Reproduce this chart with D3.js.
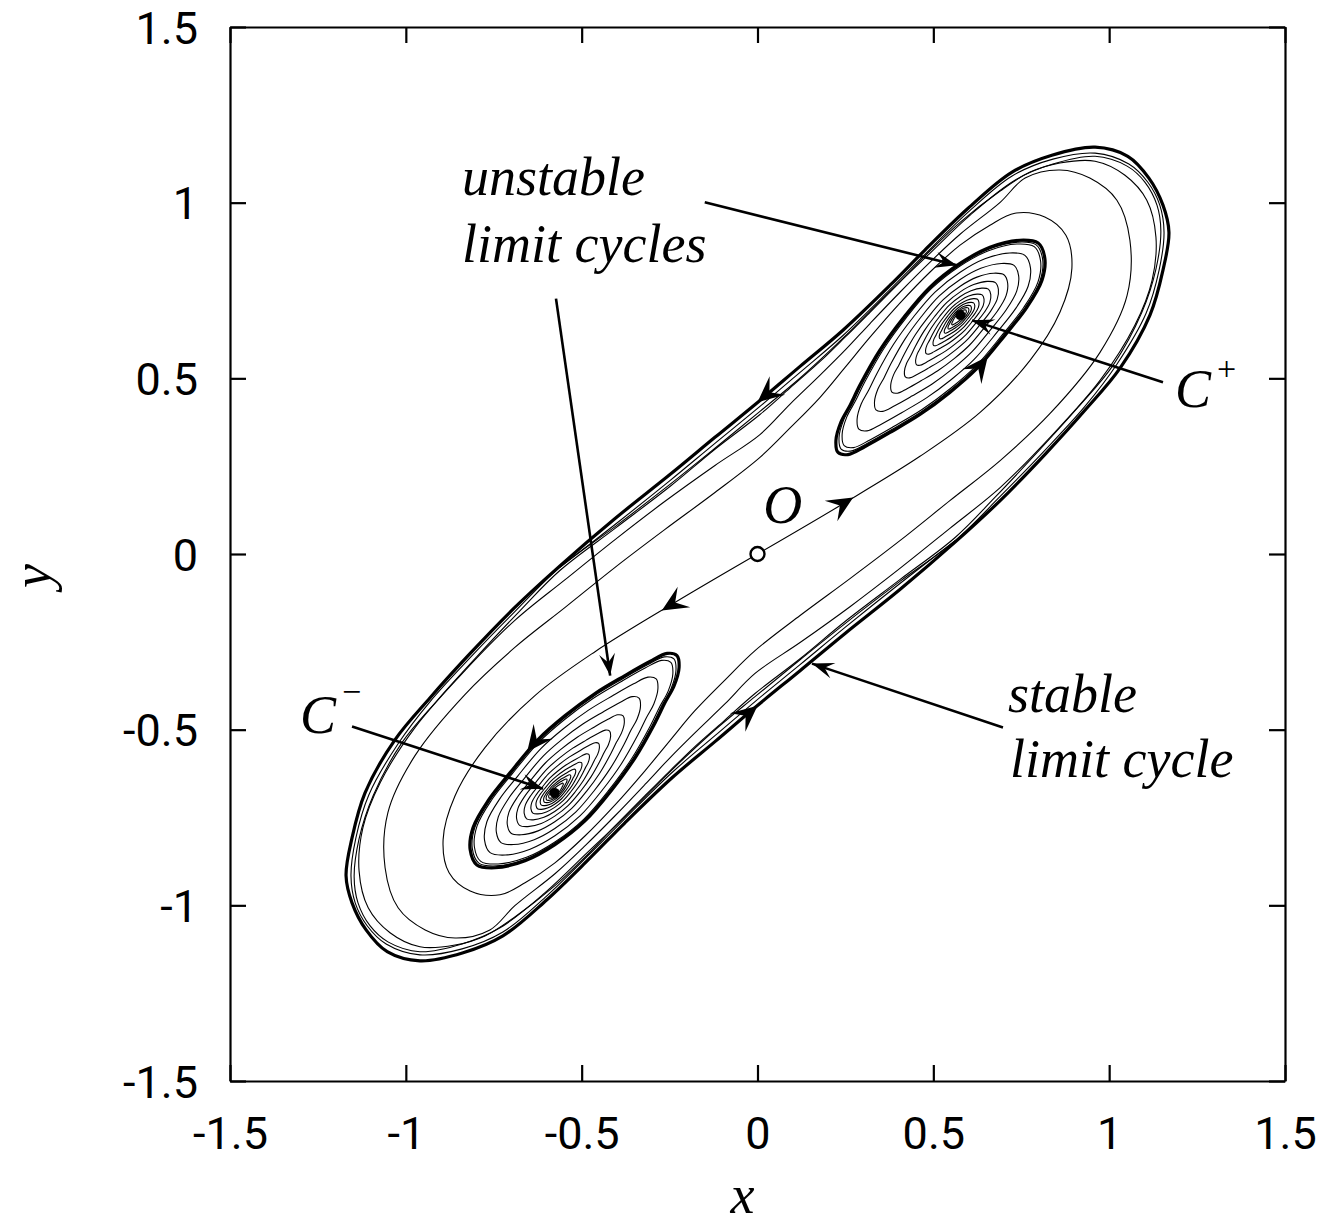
<!DOCTYPE html>
<html>
<head>
<meta charset="utf-8">
<script src="https://cdn.jsdelivr.net/npm/d3@7"></script>
<style>
  body { margin: 0; background: #fff; }
</style>
</head>
<body>
<div id="chart"></div>
<script>
const xTicks = [-1.5, -1, -0.5, 0, 0.5, 1, 1.5];
const yTicks = [-1.5, -1, -0.5, 0, 0.5, 1, 1.5];

// stable limit cycle: first half only, the other half is its point reflection through O
const stableHalf = [
  [-0.561,-0.033],[-0.405,0.101],[-0.249,0.226],[-0.121,0.332],[0.007,0.437],[0.121,0.534],
  [0.243,0.637],[0.377,0.765],[0.476,0.865],[0.599,0.984],[0.724,1.087],[0.837,1.135],
  [0.960,1.158],[1.053,1.132],[1.113,1.070],[1.153,0.993],[1.170,0.916],[1.153,0.808],
  [1.116,0.680],[1.031,0.529],[0.931,0.409],[0.817,0.283],[0.690,0.152]
];

// unstable limit cycle around C+ (C- has the reflected one)
const unstableCycle = [
  [0.263,0.423],[0.291,0.480],[0.348,0.580],[0.414,0.671],[0.490,0.759],[0.576,0.827],
  [0.661,0.873],[0.746,0.893],[0.798,0.885],[0.817,0.842],[0.809,0.779],[0.766,0.702],
  [0.704,0.623],[0.624,0.528],[0.547,0.460],[0.462,0.397],[0.377,0.346],[0.306,0.306],
  [0.257,0.283],[0.229,0.289],[0.223,0.323],[0.237,0.375]
];
const focusPlus = [0.577, 0.680];
// relative sizes of the spiral turns winding into the focus
const spiralTurns = [0.975, 0.95, 0.83, 0.69, 0.56, 0.45, 0.36, 0.28, 0.22, 0.17, 0.13, 0.1, 0.07];

// unstable manifold of O leaving up-right (the other branch is its reflection)
const branchO = [
  [0,0],[0.235,0.138],[0.462,0.278],[0.633,0.403],[0.775,0.551],[0.860,0.688],[0.894,0.813],
  [0.877,0.907],[0.817,0.959],[0.732,0.970],[0.661,0.936],[0.576,0.879],[0.490,0.802],
  [0.405,0.714],[0.320,0.617],[0.249,0.531],[0.178,0.446],[0.092,0.358],[0.007,0.275],
  [-0.121,0.175],[-0.263,0.070],[-0.405,-0.038],[-0.547,-0.152],[-0.690,-0.266],[-0.832,-0.400],
  [-0.974,-0.574],[-1.051,-0.736],[-1.059,-0.893],[-1.022,-1.007],[-0.945,-1.070],[-0.860,-1.093],
  [-0.761,-1.070],[-0.690,-1.001],[-0.576,-0.910],[-0.490,-0.830],[-0.405,-0.745],[-0.320,-0.656],
  [-0.249,-0.580],[-0.178,-0.509],[-0.092,-0.426],[-0.007,-0.340],
  [0.121,-0.252],[0.263,-0.150],[0.405,-0.041],[0.547,0.073],[0.690,0.189],[0.832,0.332],
  [0.974,0.494],[1.073,0.651],[1.122,0.779],[1.133,0.902],[1.107,1.007],[1.045,1.078],
  [0.960,1.118],[0.860,1.113],[0.775,1.087],[0.690,1.033],[0.576,0.944],[0.490,0.862],
  [0.405,0.774],[0.320,0.688],[0.249,0.617],[0.178,0.548],[0.092,0.472],[0.007,0.397],
  [-0.121,0.298],[-0.249,0.192],[-0.405,0.073],[-0.562,-0.047],[-0.675,-0.161],[-0.798,-0.292],
  [-0.911,-0.417],[-1.011,-0.537],[-1.093,-0.688],[-1.133,-0.811],[-1.147,-0.919],[-1.136,-0.993],
  [-1.102,-1.058],[-1.051,-1.104],[-0.960,-1.132],[-0.840,-1.110],[-0.732,-1.064],[-0.604,-0.964],
  [-0.482,-0.848],[-0.377,-0.748],[-0.249,-0.620],[-0.127,-0.506],[-0.007,-0.406],
  [0.121,-0.301],[0.249,-0.198],[0.405,-0.078],[0.562,0.038],[0.690,0.164],[0.817,0.295],
  [0.931,0.420],[1.022,0.540],[1.105,0.685],[1.142,0.808],[1.156,0.916],[1.144,0.993],
  [1.110,1.058],[1.056,1.110],[0.960,1.141],[0.840,1.124],[0.724,1.076],[0.599,0.973],
  [0.476,0.853],[0.377,0.753],[0.243,0.622],[0.121,0.517],[0.007,0.420],[-0.121,0.315],
  [-0.249,0.209],[-0.405,0.084],[-0.562,-0.038]
];

// direction arrows on trajectories [tail, tip]; each also drawn reflected
const flowArrows = [
  [[0.09, 0.508], [0.0, 0.432]],
  [[0.178, 0.103], [0.272, 0.161]],
  [[0.61, 0.505], [0.655, 0.563]]
];

// annotation pointers [from, to]
const pointers = [
  [[-0.150, 1.001], [0.567, 0.822]],
  [[-0.573, 0.727], [-0.419, -0.346]],
  [[1.153, 0.489], [0.610, 0.665]],
  [[-1.153, -0.491], [-0.610, -0.668]],
  [[0.698, -0.494], [0.155, -0.312]]
];

const W = 1320, H = 1227;
const margin = {top: 27, right: 35, bottom: 146, left: 230};

const x = d3.scaleLinear().domain([-1.5, 1.5]).range([margin.left, W - margin.right]);
const y = d3.scaleLinear().domain([-1.5, 1.5]).range([H - margin.bottom, margin.top]);

const svg = d3.select("#chart").append("svg")
  .attr("width", W)
  .attr("height", H);

const neg = p => [-p[0], -p[1]];
const openLine = d3.line().x(d => x(d[0])).y(d => y(d[1])).curve(d3.curveCatmullRom.alpha(0.5));
const closedLine = d3.line().x(d => x(d[0])).y(d => y(d[1])).curve(d3.curveCatmullRomClosed.alpha(0.5));

const curves = svg.append("g").attr("fill", "none").attr("stroke", "#000");

// O manifold, both branches
[branchO, branchO.map(neg)].forEach(b => {
  curves.append("path").attr("d", openLine(b)).attr("stroke-width", 1.1);
});

// spirals into the foci
const foci = [
  {c: focusPlus, cyc: unstableCycle},
  {c: neg(focusPlus), cyc: unstableCycle.map(neg)}
];
foci.forEach(f => {
  spiralTurns.forEach(s => {
    const pts = f.cyc.map(p => [f.c[0] + (p[0] - f.c[0]) * s, f.c[1] + (p[1] - f.c[1]) * s]);
    curves.append("path").attr("d", closedLine(pts)).attr("stroke-width", 1.1);
  });
  curves.append("path").attr("d", closedLine(f.cyc)).attr("stroke-width", 3.2);
  svg.append("circle").attr("cx", x(f.c[0])).attr("cy", y(f.c[1])).attr("r", 5).attr("fill", "#000");
});

// stable limit cycle
curves.append("path")
  .attr("d", closedLine(stableHalf.concat(stableHalf.map(neg))))
  .attr("stroke-width", 3.2);

function head(from, to, len, wid) {
  const x1 = x(from[0]), y1 = y(from[1]), x2 = x(to[0]), y2 = y(to[1]);
  const a = Math.atan2(y2 - y1, x2 - x1) * 180 / Math.PI;
  svg.append("path")
    .attr("d", `M0,0L${-len},${-wid / 2}L${-len * 0.6},0L${-len},${wid / 2}Z`)
    .attr("transform", `translate(${x2},${y2}) rotate(${a})`)
    .attr("fill", "#000");
}

flowArrows.forEach(([a, b]) => {
  head(a, b, 26, 24);
  head(neg(a), neg(b), 26, 24);
});

pointers.forEach(([a, b]) => {
  svg.append("line")
    .attr("x1", x(a[0])).attr("y1", y(a[1]))
    .attr("x2", x(b[0])).attr("y2", y(b[1]))
    .attr("stroke", "#000").attr("stroke-width", 2.6);
  head(a, b, 22, 16);
});

// saddle O
svg.append("circle")
  .attr("cx", x(0)).attr("cy", y(0)).attr("r", 7)
  .attr("fill", "#fff").attr("stroke", "#000").attr("stroke-width", 2.4);

// axes, ticks inward on all four sides
const fmt = d => String(d);
svg.append("g")
  .attr("transform", `translate(0,${y(-1.5)})`)
  .call(d3.axisBottom(x).tickValues(xTicks).tickFormat(fmt).tickSize(-16).tickSizeOuter(0).tickPadding(36));
const yAxis = svg.append("g")
  .attr("transform", `translate(${x(-1.5)},0)`)
  .call(d3.axisLeft(y).tickValues(yTicks).tickFormat(fmt).tickSize(-16).tickSizeOuter(0).tickPadding(32));
yAxis.selectAll(".tick text").attr("dy", "0.36em");
svg.append("g")
  .attr("transform", `translate(0,${y(1.5)})`)
  .call(d3.axisTop(x).tickValues(xTicks).tickFormat("").tickSize(-16).tickSizeOuter(0));
svg.append("g")
  .attr("transform", `translate(${x(1.5)},0)`)
  .call(d3.axisRight(y).tickValues(yTicks).tickFormat("").tickSize(-16).tickSizeOuter(0));

svg.selectAll(".domain, .tick line").attr("stroke-width", 2.2);
svg.selectAll(".tick text")
  .attr("font-family", "Roboto, sans-serif")
  .attr("font-size", 45)
  .attr("fill", "#000");

const it = (t) => t.attr("font-family", "'Liberation Serif', 'Times New Roman', serif")
  .attr("font-style", "italic").attr("font-size", 54).attr("fill", "#000");

svg.append("text").attr("x", x(0) - 27).attr("y", 1213).call(it).text("x");
svg.append("text").attr("transform", "translate(50,576) rotate(-90)")
  .attr("text-anchor", "middle").call(it).text("y");

svg.append("text").attr("x", x(-0.840)).attr("y", y(1.021)).call(it).text("unstable");
svg.append("text").attr("x", x(-0.840)).attr("y", y(0.830)).call(it).text("limit cycles");
svg.append("text").attr("x", x(0.712)).attr("y", y(-0.451)).call(it).text("stable");
svg.append("text").attr("x", x(0.718)).attr("y", y(-0.636)).call(it).text("limit cycle");
svg.append("text").attr("x", x(0.016)).attr("y", y(0.087)).call(it).text("O");

const cp = svg.append("text").attr("x", x(1.187)).attr("y", y(0.417)).call(it);
cp.append("tspan").text("C");
cp.append("tspan").attr("dx", 6).attr("dy", -27).attr("font-size", 34).attr("font-style", "normal").text("+");

const cm = svg.append("text").attr("x", x(-1.301)).attr("y", y(-0.51)).call(it);
cm.append("tspan").text("C");
cm.append("tspan").attr("dx", 6).attr("dy", -30).attr("font-size", 34).attr("font-style", "normal").text("\u2212");
</script>
</body>
</html>
